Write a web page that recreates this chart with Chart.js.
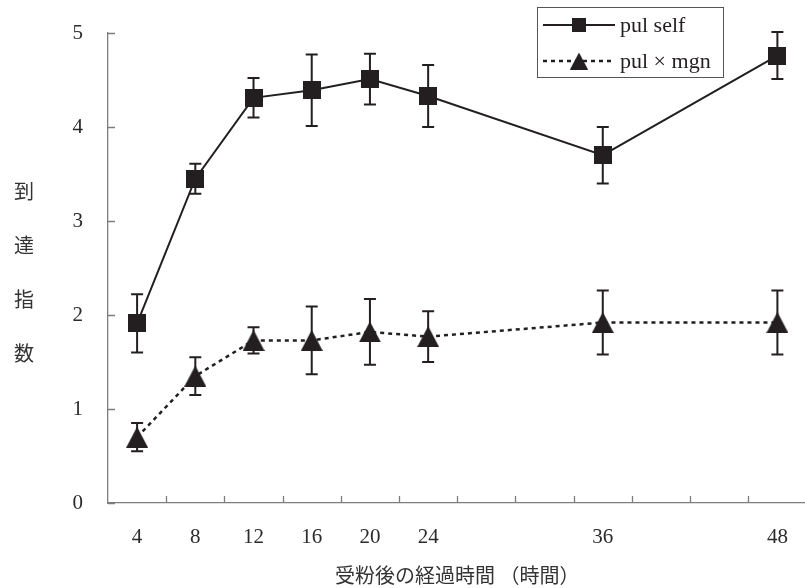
<!DOCTYPE html>
<html>
<head>
<meta charset="utf-8">
<script src="https://cdn.jsdelivr.net/npm/chart.js@4/dist/chart.umd.min.js"></script>
<style>
  html, body { margin: 0; padding: 0; background: #fff; overflow: hidden; }
  #wrap { width: 820px; height: 588px; }
</style>
</head>
<body>
<div id="wrap"><canvas id="chart" width="820" height="588"></canvas></div>
<script>
// hours after pollination
const HOURS = [4, 8, 12, 16, 20, 24, 36, 48];
const SELF_MEAN = [1.91, 3.45, 4.31, 4.39, 4.51, 4.33, 3.70, 4.76];
const SELF_SD = [0.31, 0.16, 0.21, 0.38, 0.27, 0.33, 0.30, 0.25];
const CROSS_MEAN = [0.70, 1.35, 1.73, 1.73, 1.82, 1.77, 1.92, 1.92];
const CROSS_SD = [0.15, 0.20, 0.14, 0.36, 0.35, 0.27, 0.34, 0.34];
const Y_TICKS = [0, 1, 2, 3, 4, 5];
const LABELS = ["pul self", "pul × mgn"];
const Y_TITLE = ["到", "達", "指", "数"];
const X_TITLE = "受粉後の経過時間 （時間）";

const INK = "#231f20";
const AXIS = "#7d7d7d";
const SERIF = "'Liberation Serif', 'Times New Roman', serif";
const CJK = "'Noto Sans CJK JP', sans-serif";

function squareImg(size) {
  const c = document.createElement("canvas");
  c.width = c.height = size;
  const g = c.getContext("2d");
  g.fillStyle = INK;
  g.fillRect(0, 0, size, size);
  return c;
}

function triangleImg(w, h) {
  const c = document.createElement("canvas");
  c.width = w;
  c.height = h;
  const g = c.getContext("2d");
  g.fillStyle = INK;
  g.beginPath();
  g.moveTo(w / 2, 0);
  g.lineTo(w, h);
  g.lineTo(0, h);
  g.closePath();
  g.fill();
  return c;
}

const toPoints = (values) => HOURS.map((h, i) => ({ x: h, y: values[i] }));
const SD = [SELF_SD, CROSS_SD];

// scales add label padding of their own; the layout padding already covers it
const noScalePadding = (s) => {
  s.paddingTop = s.paddingBottom = s.paddingLeft = s.paddingRight = 0;
};

const decor = {
  id: "decor",
  beforeDatasetsDraw(chart) {
    const ctx = chart.ctx;
    const y = chart.scales.y;
    ctx.save();
    ctx.strokeStyle = INK;
    ctx.lineWidth = 2;
    chart.data.datasets.forEach((ds, i) => {
      chart.getDatasetMeta(i).data.forEach((pt, j) => {
        const v = ds.data[j].y;
        const top = y.getPixelForValue(v + SD[i][j]);
        const bottom = y.getPixelForValue(v - SD[i][j]);
        ctx.beginPath();
        ctx.moveTo(pt.x, top);
        ctx.lineTo(pt.x, bottom);
        ctx.moveTo(pt.x - 6, top);
        ctx.lineTo(pt.x + 6, top);
        ctx.moveTo(pt.x - 6, bottom);
        ctx.lineTo(pt.x + 6, bottom);
        ctx.stroke();
      });
    });
    ctx.restore();
  },
  afterDraw(chart) {
    const { ctx, chartArea: area, scales } = chart;
    ctx.save();
    // inward tick marks
    ctx.strokeStyle = AXIS;
    ctx.lineWidth = 1.3;
    ctx.beginPath();
    for (let h = 6; h < scales.x.max; h += 4) {
      const px = Math.round(scales.x.getPixelForValue(h)) + 0.5;
      ctx.moveTo(px, area.bottom);
      ctx.lineTo(px, area.bottom - 7);
    }
    Y_TICKS.forEach((v) => {
      const py = Math.round(scales.y.getPixelForValue(v)) + 0.5;
      ctx.moveTo(area.left, py);
      ctx.lineTo(area.left + 7, py);
    });
    ctx.stroke();

    // axis titles
    ctx.fillStyle = "#333";
    ctx.font = `20px ${CJK}`;
    ctx.textAlign = "center";
    ctx.textBaseline = "middle";
    Y_TITLE.forEach((ch, i) => ctx.fillText(ch, 24, 191 + i * 54));
    ctx.fillText(X_TITLE, (area.left + area.right) / 2, 575);

    // legend
    ctx.strokeStyle = "#555";
    ctx.lineWidth = 1;
    ctx.strokeRect(537.5, 7.5, 186, 70);
    const rows = [25, 61];
    chart.data.datasets.forEach((ds, i) => {
      const ry = rows[i];
      ctx.strokeStyle = INK;
      ctx.lineWidth = ds.borderWidth;
      ctx.setLineDash(ds.borderDash || []);
      ctx.beginPath();
      ctx.moveTo(543, ry);
      ctx.lineTo(615, ry);
      ctx.stroke();
      ctx.setLineDash([]);
      const img = i === 0 ? squareImg(14) : triangleImg(18, 17);
      ctx.drawImage(img, 579 - img.width / 2, ry - img.height / 2);
      ctx.fillStyle = INK;
      ctx.font = `22px ${SERIF}`;
      ctx.textAlign = "left";
      ctx.fillText(ds.label, 620, ry + 1);
    });
    ctx.restore();
  },
};

new Chart(document.getElementById("chart"), {
  type: "line",
  data: {
    datasets: [
      {
        label: LABELS[0],
        data: toPoints(SELF_MEAN),
        borderColor: INK,
        borderWidth: 2,
        pointStyle: squareImg(18),
        pointRadius: 9,
        tension: 0,
      },
      {
        label: LABELS[1],
        data: toPoints(CROSS_MEAN),
        borderColor: INK,
        borderWidth: 2.5,
        borderDash: [4, 4],
        pointStyle: triangleImg(22, 21),
        pointRadius: 11,
        tension: 0,
      },
    ],
  },
  options: {
    responsive: false,
    animation: false,
    layout: { padding: { top: 33, right: 2, left: 0, bottom: 0 } },
    plugins: { legend: { display: false }, tooltip: { enabled: false } },
    scales: {
      x: {
        type: "linear",
        min: 2,
        max: 50,
        afterBuildTicks: (s) => { s.ticks = HOURS.map((h) => ({ value: h })); },
        afterFit: (s) => { s.height = 85; noScalePadding(s); },
        grid: { display: false, drawTicks: false },
        border: { display: true, color: AXIS, width: 1.3 },
        ticks: { color: "#2b2b2b", font: { family: SERIF, size: 21 }, padding: 22, maxRotation: 0, autoSkip: false },
      },
      y: {
        min: 0,
        max: 5,
        afterBuildTicks: (s) => { s.ticks = Y_TICKS.map((v) => ({ value: v })); },
        afterFit: (s) => { s.width = 108; noScalePadding(s); },
        grid: { display: false, drawTicks: false },
        border: { display: true, color: AXIS, width: 1.3 },
        ticks: { color: "#2b2b2b", font: { family: SERIF, size: 21 }, padding: 25 },
      },
    },
  },
  plugins: [decor],
});
</script>
</body>
</html>
